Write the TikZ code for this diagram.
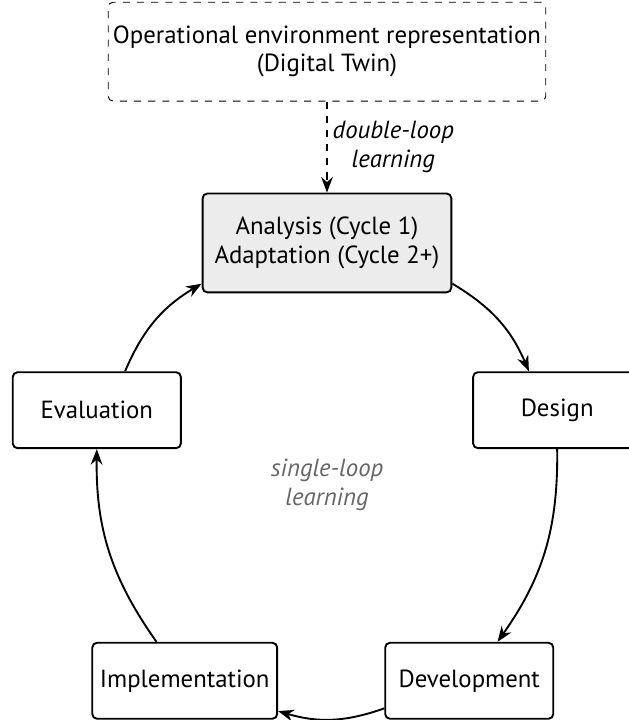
\documentclass[tikz,border=0pt]{standalone}
\usepackage{fontspec}
\setmainfont{PT Sans}[Scale=1.05]
\usetikzlibrary{positioning,arrows.meta}

\begin{document}
\begin{tikzpicture}[
    stage/.style={draw,thick,rounded corners=2pt,minimum width=2.5cm,minimum height=1.13cm,align=center},
    loop/.style={-{Stealth},thick,bend left=18},
  ]
  \useasboundingbox (-4.864,-3.496) rectangle (4.492,7.214);
  % the five stages sit on a pentagon
  \node [stage,fill=gray!15,minimum width=3.7cm,minimum height=1.47cm] (analysis) at (90:3.6cm) {Analysis (Cycle 1)\\Adaptation (Cycle 2+)};
  \node [stage] (design)         at (18:3.6cm)  {Design};
  \node [stage] (development)    at (-54:3.6cm) {Development};
  \node [stage,inner xsep=2pt,minimum width=2.75cm] (implementation) at (234:3.6cm) {Implementation};
  \node [stage] (evaluation)     at (162:3.6cm) {Evaluation};
  \node [stage,thin,dashed,inner xsep=2pt,minimum width=6.2cm,minimum height=1.47cm,above=1.354cm of analysis] (twin)
    {Operational environment representation\\(Digital Twin)};
  \node [text=black!60,font=\itshape,align=center] (single) at (0,0) {single-loop\\learning};
  % single loop
  \draw [loop] (analysis) to (design);
  \draw [loop] (design) to (development);
  \draw [loop] (development) to (implementation);
  \draw [loop] (implementation) to (evaluation);
  \draw [loop] (evaluation) to (analysis);
  % double loop
  \draw [-{Stealth},thick,dashed] (twin) -- (analysis)
    node [midway,right,inner sep=2pt,font=\itshape,align=center] {double-loop\\learning};
\end{tikzpicture}
\end{document}
